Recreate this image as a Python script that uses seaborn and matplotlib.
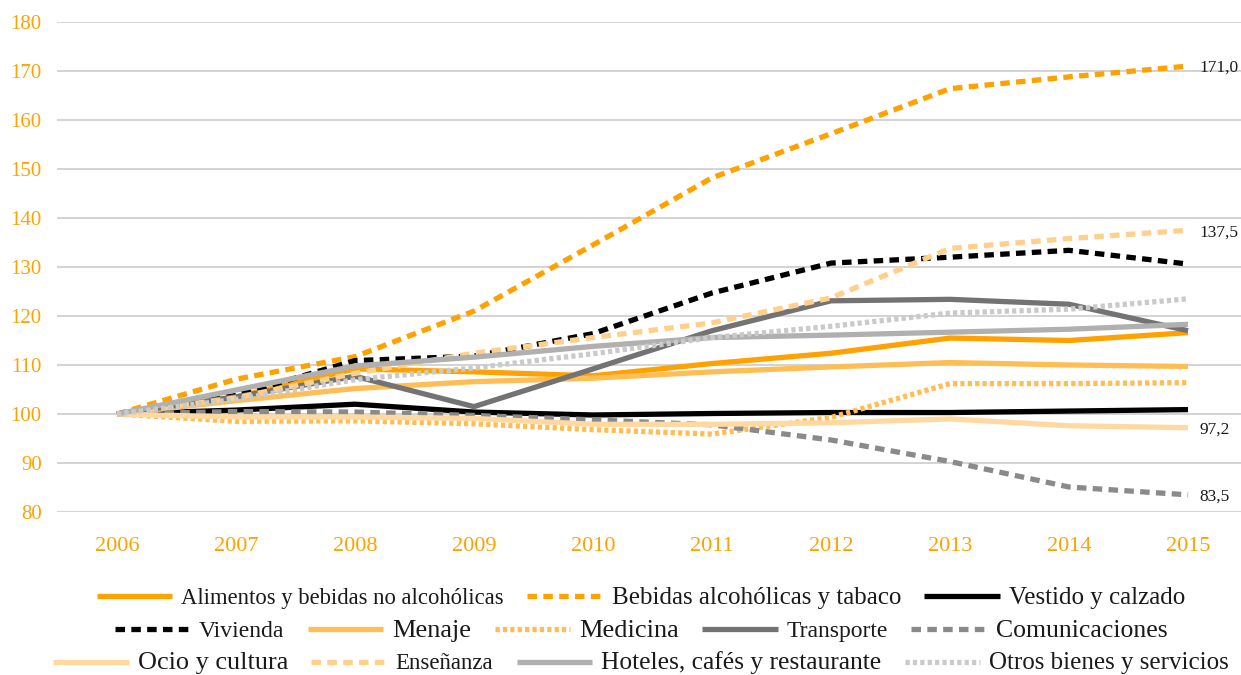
import matplotlib
matplotlib.use("Agg")
import matplotlib.pyplot as plt
import seaborn as sns
import pandas as pd

sns.set_theme(style="white")
plt.rcParams["font.family"] = ["Liberation Serif", "DejaVu Serif"]

years = [2006, 2007, 2008, 2009, 2010, 2011, 2012, 2013, 2014, 2015]

alimentos = [100, 103.5, 109.2, 108.6, 107.8, 110.3, 112.4, 115.5, 115.0, 116.6]
bebidas = [100, 107.1, 111.7, 121.0, 134.5, 148.2, 157.2, 166.4, 168.8, 171.0]
vestido = [100, 100.8, 102.0, 100.4, 99.8, 100.1, 100.3, 100.3, 100.6, 100.9]
vivienda = [100, 103.8, 110.9, 111.8, 116.4, 124.7, 130.8, 132.0, 133.4, 130.6]
menaje = [100, 102.7, 105.2, 106.6, 107.3, 108.6, 109.6, 110.5, 110.0, 109.7]
medicina = [100, 98.5, 98.6, 98.0, 96.8, 95.9, 99.3, 106.2, 106.2, 106.4]
transporte = [100, 103.5, 107.7, 101.5, 109.2, 117.0, 123.1, 123.4, 122.4, 117.0]
comunicaciones = [100, 100.5, 100.4, 99.7, 98.8, 97.8, 94.7, 90.3, 85.1, 83.5]
ocio = [100, 99.4, 99.4, 99.1, 97.9, 97.9, 98.2, 99.0, 97.6, 97.2]
ensenanza = [100, 103.3, 108.3, 112.4, 115.6, 118.6, 123.7, 133.8, 135.8, 137.5]
hoteles = [100, 104.9, 109.8, 111.6, 113.8, 115.6, 116.1, 116.7, 117.3, 118.3]
otros = [100, 103.0, 107.0, 109.4, 112.3, 115.6, 117.9, 120.6, 121.4, 123.5]

names = [
    "Alimentos y bebidas no alcohólicas", "Bebidas alcohólicas y tabaco",
    "Vestido y calzado", "Vivienda", "Menaje", "Medicina", "Transporte",
    "Comunicaciones", "Ocio y cultura", "Enseñanza",
    "Hoteles, cafés y restaurante", "Otros bienes y servicios",
]
series = [alimentos, bebidas, vestido, vivienda, menaje, medicina, transporte,
          comunicaciones, ocio, ensenanza, hoteles, otros]

# legend text sizes (pt), one per entry
legend_sizes = [16.3, 18, 18, 17, 19, 19, 17, 18.5, 18.9, 16.5, 18.4, 18]

DASH = (0, (1.8, 1.2))
DOT = (0, (0.8, 0.6))
styles = {
    names[0]: ("#FFA200", "-"),
    names[1]: ("#FFA200", DASH),
    names[2]: ("#000000", "-"),
    names[3]: ("#000000", DASH),
    names[4]: ("#FFBE55", "-"),
    names[5]: ("#FFBE55", DOT),
    names[6]: ("#737373", "-"),
    names[7]: ("#8A8A8A", DASH),
    names[8]: ("#FFD9A0", "-"),
    names[9]: ("#FFD08C", DASH),
    names[10]: ("#B0B0B0", "-"),
    names[11]: ("#CACACA", DOT),
}
labelled = {names[1], names[9], names[8], names[7]}

df = pd.DataFrame({"year": years * len(names),
                   "serie": [n for n in names for _ in years],
                   "valor": [v for s in series for v in s]})

fig = plt.figure(figsize=(12.41, 6.75), dpi=100)
ax = fig.add_axes([57 / 1241, 1 - 512 / 675, 1184 / 1241, 490 / 675])

handles = {}
for name in names:
    color, ls = styles[name]
    sub = df[df["serie"] == name]
    sns.lineplot(data=sub, x="year", y="valor", color=color, linestyle=ls,
                 linewidth=3.8, ax=ax, label=name, legend=False,
                 solid_capstyle="butt", dash_capstyle="butt")
    handles[name] = ax.lines[-1]
    if name in labelled:
        last = sub["valor"].iloc[-1]
        ax.annotate(f"{last:.1f}".replace(".", ","), xy=(years[-1], last),
                    xytext=(8, 0), textcoords="offset points",
                    ha="left", va="center_baseline", fontsize=12.5,
                    color="#1a1a1a", annotation_clip=False)

ax.set_xlim(2005.496, 2015.445)
ax.set_ylim(80, 180)
ax.set_yticks(range(80, 181, 10))
ax.set_xticks(years)
ax.grid(axis="y", color="#D0D0D0", linewidth=1.3)
ax.grid(axis="x", visible=False)
ax.set_axisbelow(True)
for sp in ax.spines.values():
    sp.set_visible(False)
ax.tick_params(axis="y", length=0, pad=11, labelsize=15, labelcolor="#FFA200")
ax.tick_params(axis="x", length=0, pad=18, labelsize=16, labelcolor="#FFA200")
ax.set_xlabel("")
ax.set_ylabel("")

size_of = dict(zip(names, legend_sizes))
rows = [names[0:3], names[3:8], names[8:12]]
row_y = [598, 631, 663]
for row, yc in zip(rows, row_y):
    leg = fig.legend([handles[n] for n in row], row, loc="center",
                     bbox_to_anchor=(641 / 1241, 1 - yc / 675), ncol=len(row),
                     frameon=False, fontsize=16, handlelength=3.4,
                     handletextpad=0.4, columnspacing=1.05,
                     borderaxespad=0, borderpad=0)
    for t, n in zip(leg.get_texts(), row):
        t.set_color("#1a1a1a")
        t.set_fontsize(size_of[n])

fig.savefig("out.png", dpi=100)
